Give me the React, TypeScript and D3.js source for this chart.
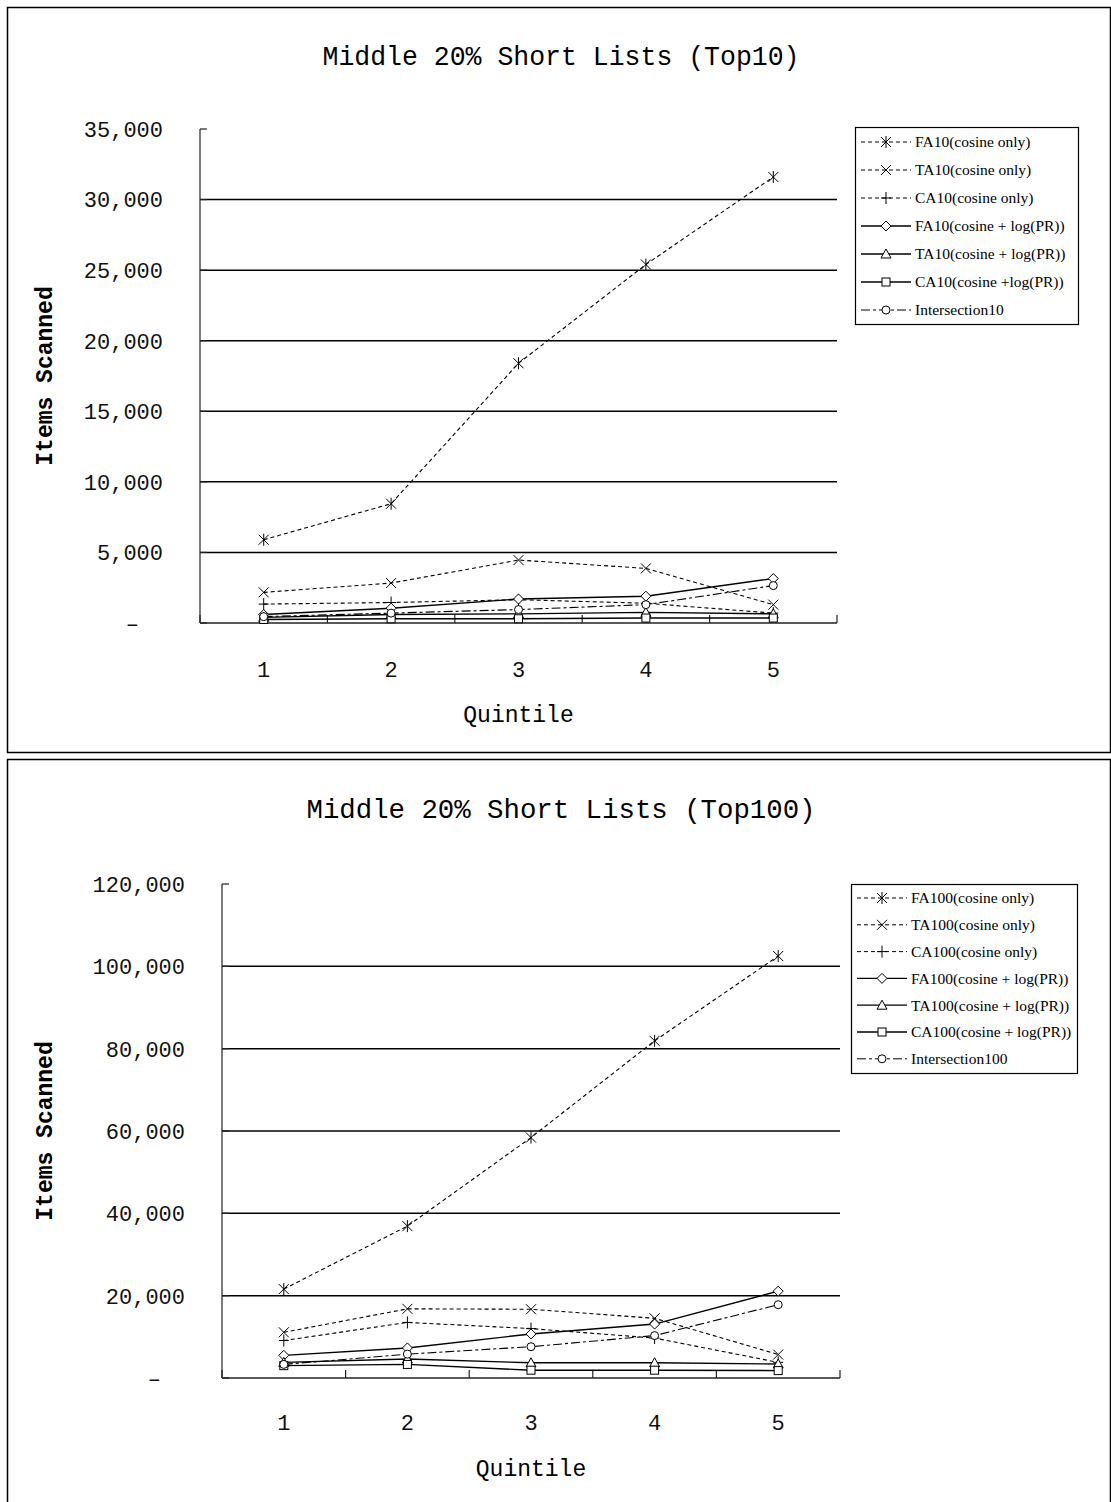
import React from 'react';
import * as d3 from 'd3';

const quintiles = ['1', '2', '3', '4', '5'];

// Top10 chart values
const fa10Cosine = [5900, 8450, 18400, 25400, 31600];
const ta10Cosine = [2170, 2830, 4460, 3870, 1300];
const ca10Cosine = [1340, 1450, 1650, 1400, 700];
const fa10Log = [600, 1050, 1700, 1900, 3150];
const ta10Log = [400, 600, 650, 750, 650];
const ca10Log = [250, 300, 300, 350, 350];
const inter10 = [450, 700, 950, 1300, 2650];
const top10Names = [
  'FA10(cosine only)', 'TA10(cosine only)', 'CA10(cosine only)',
  'FA10(cosine + log(PR))', 'TA10(cosine + log(PR))', 'CA10(cosine +log(PR))', 'Intersection10',
];
const top10Ticks = [0, 5000, 10000, 15000, 20000, 25000, 30000, 35000];

// Top100 chart values
const fa100Cosine = [21600, 36900, 58400, 81900, 102500];
const ta100Cosine = [11100, 16800, 16700, 14500, 5700];
const ca100Cosine = [9100, 13500, 12000, 9700, 3800];
const fa100Log = [5500, 7300, 10700, 13100, 21100];
const ta100Log = [3800, 4600, 3700, 3700, 3400];
const ca100Log = [3000, 3300, 1900, 1900, 1800];
const inter100 = [3300, 5800, 7600, 10300, 17800];
const top100Names = [
  'FA100(cosine only)', 'TA100(cosine only)', 'CA100(cosine only)',
  'FA100(cosine + log(PR))', 'TA100(cosine + log(PR))', 'CA100(cosine + log(PR))', 'Intersection100',
];
const top100Ticks = [0, 20000, 40000, 60000, 80000, 100000, 120000];

const markers = ['asterisk', 'x', 'plus', 'diamond', 'triangle', 'square', 'circle'];
const lineKinds = ['cos', 'cos', 'cos', 'log', 'log', 'log', 'inter'];

const dashFor = (kind: string) =>
  kind === 'cos' ? '4,3' : kind === 'inter' ? '9,3,3,3' : undefined;

const Marker = ({ type, x, y }: { type: string; x: number; y: number }) => {
  const r = 5;
  const common = { stroke: '#000', strokeWidth: 1, fill: 'none' };
  switch (type) {
    case 'asterisk':
      return <path {...common} d={`M${x - r},${y - r}L${x + r},${y + r}M${x - r},${y + r}L${x + r},${y - r}M${x},${y - r - 1}L${x},${y + r + 1}`} />;
    case 'x':
      return <path {...common} d={`M${x - r},${y - r}L${x + r},${y + r}M${x - r},${y + r}L${x + r},${y - r}`} />;
    case 'plus':
      return <path {...common} d={`M${x - r},${y}L${x + r},${y}M${x},${y - r - 1}L${x},${y + r + 1}`} />;
    case 'diamond':
      return <path {...common} fill="#fff" d={`M${x},${y - r}L${x + r},${y}L${x},${y + r}L${x - r},${y}Z`} />;
    case 'triangle':
      return <path {...common} fill="#fff" d={`M${x},${y - r}L${x + r},${y + 4}L${x - r},${y + 4}Z`} />;
    case 'square':
      return <rect {...common} fill="#fff" x={x - 4} y={y - 4} width={8} height={8} />;
    default:
      return <circle {...common} fill="#fff" cx={x} cy={y} r={4} />;
  }
};

interface ChartProps {
  top: number;
  height: number;
  title: string;
  titleY: number;
  titleLen: number;
  series: number[][];
  names: string[];
  ticks: number[];
  left: number;
  right: number;
  plotTop: number;
  plotBottom: number;
  legend: { x: number; y: number; w: number; h: number; first: number; step: number };
  xTitleY: number;
  xLabelY: number;
}

const Chart = (p: ChartProps) => {
  const x = d3.scaleBand<string>().domain(quintiles).range([p.left, p.right]);
  const y = d3.scaleLinear().domain([0, d3.max(p.ticks) as number]).range([p.plotBottom, p.plotTop]);
  const line = d3.line<number>()
    .x((_, i) => (x(quintiles[i]) as number) + x.bandwidth() / 2)
    .y(d => y(d));
  const fmt = d3.format(',');
  const labelX = p.left - 37;
  const mono = '"Liberation Mono", monospace';
  const lg = p.legend;

  return (
    <g>
      <rect x={7.5} y={p.top + 0.5} width={1103} height={p.height} fill="#fff" stroke="#000" strokeWidth={1.5} />
      <text x={561} y={p.titleY} textAnchor="middle" fontFamily={mono} fontSize={27}
        textLength={p.titleLen} lengthAdjust="spacingAndGlyphs">{p.title}</text>

      {/* gridlines */}
      {p.ticks.slice(1, -1).map(t => (
        <line key={t} x1={p.left} x2={p.right} y1={y(t)} y2={y(t)} stroke="#000" strokeWidth={1.5} />
      ))}

      {/* y axis */}
      <line x1={p.left} x2={p.left} y1={p.plotTop} y2={p.plotBottom} stroke="#222" strokeWidth={1.2} />
      {p.ticks.map(t => (
        <g key={t}>
          <line x1={p.left} x2={p.left + 7} y1={y(t)} y2={y(t)} stroke="#222" strokeWidth={1.2} />
          <text x={t === 0 ? labelX - 24 : labelX} y={y(t)} dy="0.36em" textAnchor="end"
            fontFamily={mono} fontSize={22} fill="#111">{t === 0 ? '–' : fmt(t)}</text>
        </g>
      ))}

      {/* x axis */}
      <line x1={p.left} x2={p.right} y1={p.plotBottom} y2={p.plotBottom} stroke="#222" strokeWidth={1.5} />
      {[...quintiles.map(q => x(q) as number), p.right].map((bx, i) => (
        <line key={i} x1={bx} x2={bx} y1={p.plotBottom} y2={p.plotBottom - 8} stroke="#222" strokeWidth={1.2} />
      ))}
      {quintiles.map(q => (
        <text key={q} x={(x(q) as number) + x.bandwidth() / 2} y={p.xLabelY} textAnchor="middle"
          fontFamily={mono} fontSize={22} fill="#111">{q}</text>
      ))}
      <text x={(p.left + p.right) / 2} y={p.xTitleY} textAnchor="middle" fontFamily={mono} fontSize={23}>Quintile</text>
      <text transform={`translate(52,${(p.plotTop + p.plotBottom) / 2}) rotate(-90)`} textAnchor="middle"
        fontFamily={mono} fontSize={23} fontWeight="bold">Items Scanned</text>

      {/* series */}
      {p.series.map((vals, si) => (
        <g key={si}>
          <path d={line(vals) as string} fill="none" stroke="#000"
            strokeWidth={lineKinds[si] === 'log' ? 1.4 : 1.1} strokeDasharray={dashFor(lineKinds[si])} />
          {vals.map((v, i) => (
            <Marker key={i} type={markers[si]} x={(x(quintiles[i]) as number) + x.bandwidth() / 2} y={y(v)} />
          ))}
        </g>
      ))}

      {/* legend */}
      <rect x={lg.x + 0.5} y={lg.y + 0.5} width={lg.w} height={lg.h} fill="#fff" stroke="#000" strokeWidth={1.2} />
      {p.names.map((name, i) => {
        const ly = lg.first + i * lg.step;
        return (
          <g key={name}>
            <line x1={lg.x + 6} x2={lg.x + 56} y1={ly} y2={ly} stroke="#000"
              strokeWidth={lineKinds[i] === 'log' ? 1.3 : 1} strokeDasharray={dashFor(lineKinds[i])} />
            <Marker type={markers[i]} x={lg.x + 31} y={ly} />
            <text x={lg.x + 60} y={ly} dy="0.35em" fontFamily='"Liberation Serif", serif' fontSize={15.5}>{name}</text>
          </g>
        );
      })}
    </g>
  );
};

export default function App() {
  return (
    <svg width={1111} height={1502} style={{ position: 'absolute', left: 0, top: 0, background: '#fff' }}>
      <Chart
        top={7} height={745} title="Middle 20% Short Lists (Top10)" titleY={65} titleLen={477}
        series={[fa10Cosine, ta10Cosine, ca10Cosine, fa10Log, ta10Log, ca10Log, inter10]}
        names={top10Names} ticks={top10Ticks}
        left={200} right={837} plotTop={129} plotBottom={623}
        legend={{ x: 855, y: 127, w: 223, h: 197, first: 142, step: 28 }}
        xLabelY={677} xTitleY={722}
      />
      <Chart
        top={759} height={750} title="Middle 20% Short Lists (Top100)" titleY={818} titleLen={509}
        series={[fa100Cosine, ta100Cosine, ca100Cosine, fa100Log, ta100Log, ca100Log, inter100]}
        names={top100Names} ticks={top100Ticks}
        left={222} right={840} plotTop={884} plotBottom={1378}
        legend={{ x: 851, y: 884, w: 226, h: 189, first: 898, step: 26.8 }}
        xLabelY={1430} xTitleY={1476}
      />
    </svg>
  );
}
